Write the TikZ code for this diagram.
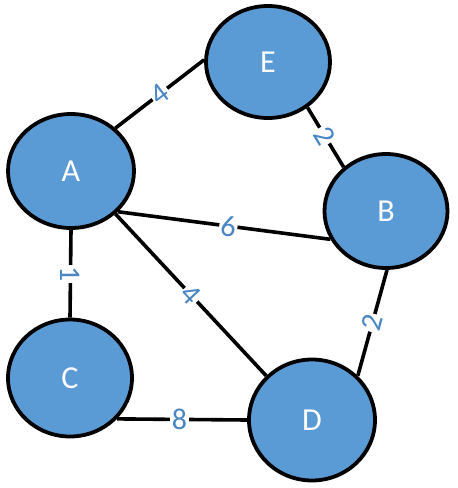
\documentclass[tikz,border=0pt]{standalone}
\usepackage{fontspec}
\setmainfont{Carlito}
\usetikzlibrary{shapes.geometric}
\definecolor{nodeblue}{HTML}{5B9BD5}
\definecolor{labblue}{HTML}{4A86C4}
\tikzset{
  vert/.style={ellipse, draw=black, line width=3.8pt, fill=nodeblue, text=white,
    inner sep=0pt, font=\fontsize{32}{32}\selectfont},
  edge/.style={draw=black, line width=3.6pt},
  wlab/.style={fill=white, text=labblue, inner sep=1.5pt, font=\fontsize{30}{30}\selectfont}
}
\begin{document}
\begin{tikzpicture}[x=1pt,y=-1pt]
\useasboundingbox[fill=white] (0,0) rectangle (458,488);
\node[vert, minimum width=126pt, minimum height=114pt] (A) at (71,171) {A};
\node[vert, minimum width=124pt, minimum height=112pt] (E) at (268,62) {E};
\node[vert, minimum width=123pt, minimum height=114pt] (B) at (386,211) {B};
\node[vert, minimum width=124pt, minimum height=117pt] (C) at (70,378) {C};
\node[vert, minimum width=126pt, minimum height=121pt] (D) at (312,420) {D};
\draw[edge] (A.44) -- node[wlab, sloped, pos=0.5] {4} (E.178);
\draw[edge] (E.-49) -- node[wlab, sloped, pos=0.47] {2} (B.134);
\draw[edge] (A.-41) -- node[wlab, sloped, pos=0.52] {6} (B.207);
\draw[edge] (A.south) -- node[wlab, rotate=-90, pos=0.5] {1} (C.north);
\draw[edge] (A.-44) -- node[wlab, sloped, pos=0.5] {4} (D.136);
\draw[edge] (B.-89) -- node[wlab, sloped, pos=0.5] {2} (D.44);
\draw[edge] (C.-41) -- node[wlab, pos=0.48] {8} (D.west);
\end{tikzpicture}
\end{document}
